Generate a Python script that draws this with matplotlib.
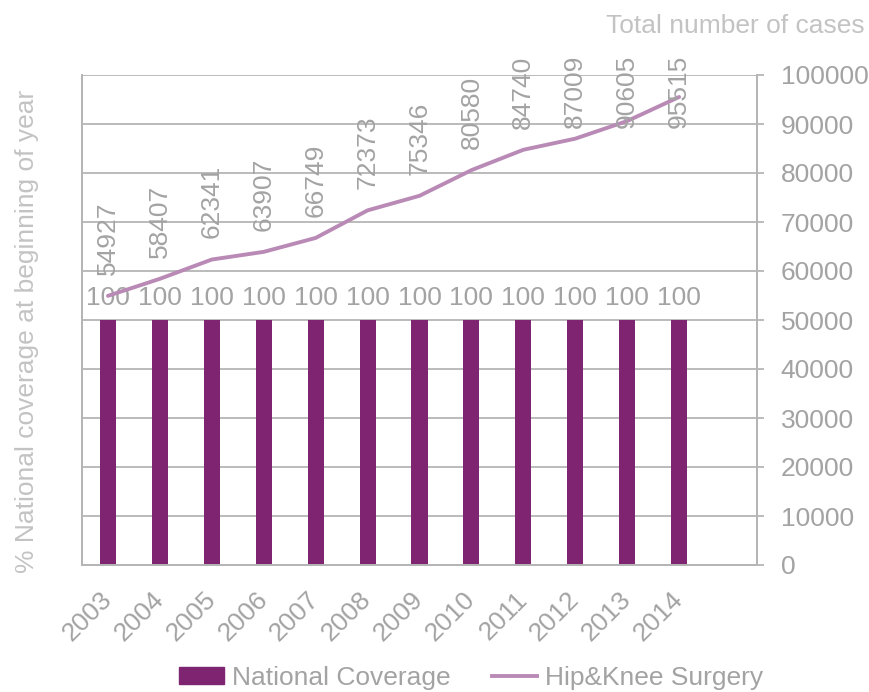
import matplotlib.pyplot as plt

plt.rcParams['font.family'] = ['Liberation Sans', 'DejaVu Sans']

years = ['2003', '2004', '2005', '2006', '2007', '2008', '2009', '2010',
         '2011', '2012', '2013', '2014']
coverage = [100] * 12
cases = [54927, 58407, 62341, 63907, 66749, 72373, 75346, 80580,
         84740, 87009, 90605, 95515]

BAR = '#7F2470'
LINE = '#B98AB5'
TXT = '#A3A3A3'
TITLE = '#C3C3C3'
SPINE = '#B5B5B5'
FS = 19

fig = plt.figure(figsize=(8.69, 6.92), dpi=100)
ax = fig.add_axes([82 / 869, 1 - 565 / 692, (757 - 82) / 869, (565 - 75) / 692])
x = list(range(len(years)))

# left axis: coverage bars + gridlines (0-200 so 100 sits at half height)
ax.set_axisbelow(True)
ax.bar(x, coverage, width=0.31, color=BAR, zorder=2)
ax.set_ylim(0, 200)
ax.set_yticks(range(0, 201, 20))
ax.yaxis.grid(True, color=SPINE, lw=1.3, zorder=0)
ax.tick_params(axis='y', length=0, labelleft=False)
for xi, v in zip(x, coverage):
    ax.text(xi, v + 6, str(v), ha='center', va='baseline', fontsize=FS,
            color=TXT, zorder=5)

ax.set_xlim(-0.5, len(years) + 0.5)
ax.set_xticks(x)
ax.set_xticklabels(years, rotation=45, ha='right', va='center',
                   rotation_mode='anchor', fontsize=FS, color=TXT)
ax.tick_params(axis='x', length=0, pad=22)

# right axis: total cases line
ax2 = ax.twinx()
ax2.plot(x, cases, color=LINE, lw=2.8, solid_capstyle='round', zorder=3,
         label='Hip&Knee Surgery')
ax2.set_ylim(0, 100000)
ax2.set_yticks(range(0, 100001, 10000))
ax2.tick_params(axis='y', length=5, width=1.3, color=SPINE, pad=12,
                labelsize=FS, labelcolor=TXT)
for lbl in ax2.get_yticklabels():
    lbl.set_horizontalalignment('left')
for xi, v in zip(x, cases):
    ax2.text(xi, min(v + 4300, 89200), str(v), rotation=90, ha='center',
             va='bottom', fontsize=FS, color=TXT, zorder=5)

for a in (ax, ax2):
    a.spines['top'].set_visible(False)
    for s in ('left', 'right', 'bottom'):
        a.spines[s].set_color(SPINE)
        a.spines[s].set_linewidth(1.3)

fig.text(27 / 869, 1 - 331 / 692, '% National coverage at beginning of year',
         rotation=90, ha='center', va='center', fontsize=FS, color=TITLE)
fig.text(865 / 869, 1 - 33 / 692, 'Total number of cases', ha='right',
         va='baseline', fontsize=FS, color=TITLE)

h1 = plt.Rectangle((0, 0), 1, 1, color=BAR)
h2 = plt.Line2D([], [], color=LINE, lw=2.8)
fig.legend([h1, h2], ['National Coverage', 'Hip&Knee Surgery'], loc='center',
           bbox_to_anchor=(471 / 869, 1 - 678 / 692), ncol=2, frameon=False,
           fontsize=FS, labelcolor=TXT, handlelength=1.7, handleheight=0.62,
           handletextpad=0.3, columnspacing=1.6)

fig.savefig('out.png', dpi=100)
